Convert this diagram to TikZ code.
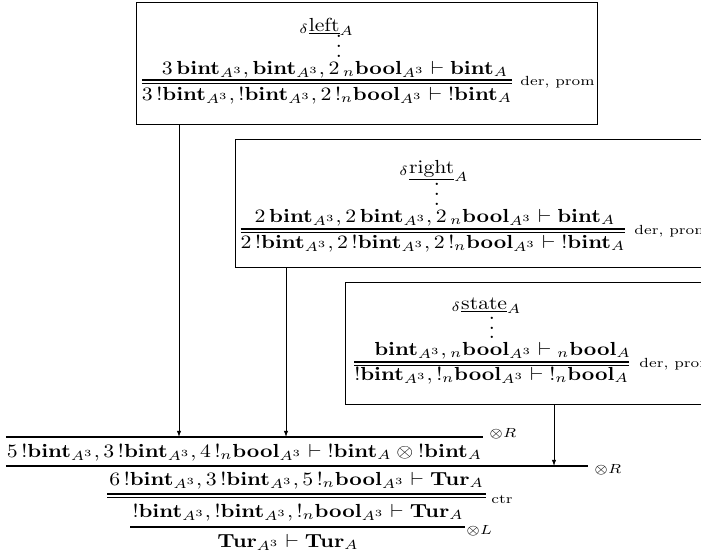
\documentclass[tikz,border=0pt]{standalone}
\usetikzlibrary{arrows.meta,fit}

\newcommand{\bint}{\mathbf{bint}}
\newcommand{\bool}{\mathbf{bool}}
\newcommand{\Tur}{\mathbf{Tur}}
\newcommand{\bang}{\mathord{!}}
\newcommand{\sq}[1]{\scalebox{1}[0.87]{#1}}
\newcommand{\tallvdots}{\vbox{\offinterlineskip\hbox{.}\kern3.4pt\hbox{.}\kern3.4pt\hbox{.}}}

\begin{document}
\begin{tikzpicture}[x=0.46pt,y=-0.46pt,
  seq/.style={anchor=base, inner sep=0pt, outer sep=0pt},
  dots/.style={inner sep=0pt, outer sep=0pt},
  lbl/.style={anchor=west, inner sep=0pt, font=\scriptsize},
  proofbox/.style={draw, line width=0.45pt, inner sep=0pt},
  rulel/.style={line width=0.5pt},
  arr/.style={line width=0.4pt, -{Latex[length=2.8pt,width=2pt]}}]
\clip (0,0) rectangle (701,555);

% boxed derivations
\node[proofbox, fit={(136,2.7) (597,124.5)}] (box1) {};
\node[proofbox, fit={(235,139) (760,267)}] (box2) {};
\node[proofbox, fit={(345,282) (760,404)}] (box3) {};

% left
\node[seq] (lname) at (326.5,31) {\sq{${}_{\delta}\underline{\mathrm{left}}_A$}};
\node[dots] (ldots) at (339,46.5) {\tallvdots};
\node[seq] (lprem) at (335,74) {\sq{$3\,\bint_{A^3}, \bint_{A^3}, 2\,{}_n\bool_{A^3} \vdash \bint_A$}};
\node[seq] (lconc) at (327,100) {\sq{$3\,\bang\bint_{A^3}, \bang\bint_{A^3}, 2\,\bang_n\bool_{A^3} \vdash \bang\bint_A$}};
\coordinate (ly1) at (0,80);
\coordinate (ly2) at (0,83.3);
\draw[rulel] (lconc.west |- ly1) -- (lconc.east |- ly1) (lconc.west |- ly2) -- (lconc.east |- ly2);
\node[lbl] (llbl) at (520,82) {\sq{der, prom}};

% right
\node[seq] (rname) at (434,173) {\sq{${}_{\delta}\underline{\mathrm{right}}_A$}};
\node[dots] (rdots) at (437,194.5) {\tallvdots};
\node[seq] (rprem) at (435,222) {\sq{$2\,\bint_{A^3}, 2\,\bint_{A^3}, 2\,{}_n\bool_{A^3} \vdash \bint_A$}};
\node[seq] (rconc) at (433,248) {\sq{$2\,\bang\bint_{A^3}, 2\,\bang\bint_{A^3}, 2\,\bang_n\bool_{A^3} \vdash \bang\bint_A$}};
\coordinate (ry1) at (0,229);
\coordinate (ry2) at (0,232.3);
\draw[rulel] (rconc.west |- ry1) -- (rconc.east |- ry1) (rconc.west |- ry2) -- (rconc.east |- ry2);
\node[lbl] (rlbl) at (634,231) {\sq{der, prom}};

% state
\node[seq] (sname) at (486.5,309) {\sq{${}_{\delta}\underline{\mathrm{state}}_A$}};
\node[dots] (sdots) at (492,328) {\tallvdots};
\node[seq] (sprem) at (502.5,355) {\sq{$\bint_{A^3}, {}_n\bool_{A^3} \vdash {}_n\bool_A$}};
\node[seq] (sconc) at (491.5,380) {\sq{$\bang\bint_{A^3}, \bang_n\bool_{A^3} \vdash \bang_n\bool_A$}};
\coordinate (sy1) at (0,362);
\coordinate (sy2) at (0,365.3);
\draw[rulel] (sconc.west |- sy1) -- (sconc.east |- sy1) (sconc.west |- sy2) -- (sconc.east |- sy2);
\node[lbl] (slbl) at (639,364) {\sq{der, prom}};

% lower part of the proof
\node[seq] (q5) at (244.5,457) {\sq{$5\,\bang\bint_{A^3}, 3\,\bang\bint_{A^3}, 4\,\bang_n\bool_{A^3} \vdash \bang\bint_A \otimes \bang\bint_A$}};
\node[seq] (q6) at (296.5,485) {\sq{$6\,\bang\bint_{A^3}, 3\,\bang\bint_{A^3}, 5\,\bang_n\bool_{A^3} \vdash \Tur_A$}};
\node[seq] (q7) at (298,517) {\sq{$\bang\bint_{A^3}, \bang\bint_{A^3}, \bang_n\bool_{A^3} \vdash \Tur_A$}};
\node[seq] (q8) at (288,547) {\sq{$\Tur_{A^3} \vdash \Tur_A$}};

\coordinate (t1) at (179,437);
\coordinate (t2) at (286,437);
\coordinate (t3) at (554,466);
\coordinate (ya) at (0,437);
\coordinate (yb) at (0,466);
\coordinate (yc1) at (0,494);
\coordinate (yc2) at (0,497.3);
\coordinate (yd) at (0,527);

\draw[rulel] ([xshift=-0.5pt]q5.west |- ya) -- ([xshift=0.5pt]q5.east |- ya);
\node[lbl] (tensR1) at (489,434) {\sq{$\otimes R$}};
\draw[rulel] ([xshift=-0.5pt]q5.west |- yb) -- (588,466);
\node[lbl] (tensR2) at (594,470) {\sq{$\otimes R$}};
\draw[rulel] ([xshift=-1pt]q6.west |- yc1) -- ([xshift=1pt]q6.east |- yc1)
             ([xshift=-1pt]q6.west |- yc2) -- ([xshift=1pt]q6.east |- yc2);
\node[lbl] (ctr) at (491,499) {\sq{ctr}};
\draw[rulel] ([xshift=-1pt]q7.west |- yd) -- ([xshift=0.5pt]q7.east |- yd);
\node[lbl] (tensL) at (466,531) {\sq{$\otimes L$}};

% connectors from the boxes down to the rules
\draw[arr] (box1.south -| t1) -- (t1);
\draw[arr] (box2.south -| t2) -- (t2);
\draw[arr] (box3.south -| t3) -- (t3);
\end{tikzpicture}
\end{document}
